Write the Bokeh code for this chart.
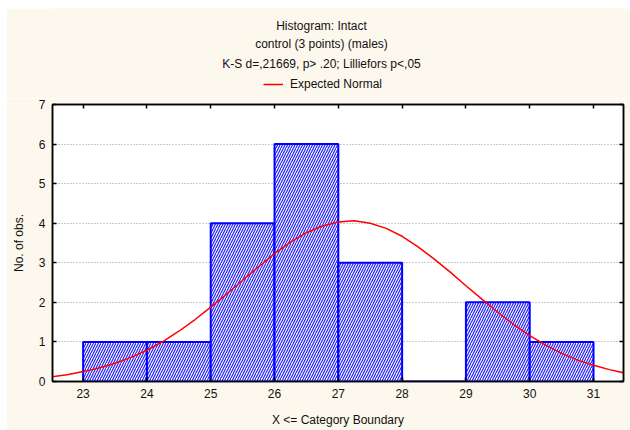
from bokeh.plotting import figure
from bokeh.layouts import column
from bokeh.models import (Label, Legend, LegendItem, LinearAxis, FixedTicker,
                          Range1d, ColumnDataSource)
from bokeh.embed import file_html
from bokeh.resources import INLINE

# ---- data ----
bin_left = [23, 24, 25, 26, 27, 28, 29, 30]
bin_right = [24, 25, 26, 27, 28, 29, 30, 31]
counts = [1, 1, 4, 6, 3, 0, 2, 1]

curve_x = [22.5, 22.75, 23.0, 23.25, 23.5, 23.75, 24.0, 24.25, 24.5, 24.75,
           25.0, 25.25, 25.5, 25.75, 26.0, 26.25, 26.5, 26.75, 27.0, 27.25,
           27.5, 27.75, 28.0, 28.25, 28.5, 28.75, 29.0, 29.25, 29.5, 29.75,
           30.0, 30.25, 30.5, 30.75, 31.0, 31.25, 31.5]
curve_y = [0.12, 0.17, 0.25, 0.34, 0.46, 0.61, 0.79, 1.01, 1.27, 1.56,
           1.88, 2.21, 2.56, 2.90, 3.23, 3.52, 3.76, 3.93, 4.03, 4.06,
           4.00, 3.87, 3.67, 3.40, 3.10, 2.77, 2.42, 2.08, 1.75, 1.44,
           1.16, 0.92, 0.71, 0.54, 0.41, 0.30, 0.21]

x_ticks = [23, 24, 25, 26, 27, 28, 29, 30, 31]
y_ticks = [0, 1, 2, 3, 4, 5, 6, 7]

title_lines = ["Histogram: Intact", "control (3 points) (males)",
               "K-S d=,21669, p> .20; Lilliefors p<,05"]
legend_label = "Expected Normal"
x_label = "X <= Category Boundary"
y_label = "No. of obs."

FONT = "Liberation Sans"
CREAM = "#FDF8ED"
W = 624
HEAD_H = 90
MAIN_H = 332
BL, BR = 46, 7          # left / right borders shared by both figures

# ---- header (titles + legend); frame spans the same columns as the plot ----
head = figure(width=W, height=HEAD_H, output_backend="svg",
              toolbar_location=None, x_range=Range1d(0, W - BL - BR),
              y_range=Range1d(HEAD_H, 0), min_border_left=BL,
              min_border_right=BR, min_border_top=0, min_border_bottom=0,
              x_axis_location=None, y_axis_location=None)
head.background_fill_color = CREAM
head.border_fill_color = CREAM
head.outline_line_color = None
head.grid.visible = False

for txt, yy in zip(title_lines, [17, 35, 55]):
    head.add_layout(Label(x=269, y=yy, text=txt, text_align="center",
                          text_baseline="middle", text_font=FONT,
                          text_font_size="12px", text_color="#111111"))

swatch = head.line(x=[-50, -40], y=[-50, -50], line_color="#FF0000",
                   line_width=1.5)
legend = Legend(items=[LegendItem(label=legend_label, renderers=[swatch])],
                location=(211, 7), orientation="horizontal",
                label_text_font=FONT, label_text_font_size="12px",
                label_text_color="#111111", glyph_width=20, glyph_height=14,
                label_height=14, label_standoff=7, padding=0, margin=0,
                spacing=0, background_fill_alpha=0, border_line_alpha=0)
head.add_layout(legend)

# ---- main histogram ----
p = figure(width=W, height=MAIN_H, output_backend="svg",
           toolbar_location=None,
           x_range=Range1d(22.52, 31.47), y_range=Range1d(0, 7),
           min_border_left=BL, min_border_right=BR, min_border_top=6,
           min_border_bottom=49, x_axis_location=None, y_axis_location=None)
p.background_fill_color = "white"
p.border_fill_color = CREAM
p.outline_line_color = "black"
p.outline_line_width = 1.5

src = ColumnDataSource(dict(left=bin_left, right=bin_right, top=counts,
                            bottom=[0] * len(counts)))
p.quad(left="left", right="right", top="top", bottom="bottom", source=src,
       fill_color="white", line_color="#0000FF", line_width=2,
       hatch_pattern="/", hatch_color="#2020FF", hatch_scale=5,
       hatch_weight=1.2)

p.line(curve_x, curve_y, line_color="#FF0000", line_width=1.5)

xb = LinearAxis(ticker=FixedTicker(ticks=x_ticks))
xt = LinearAxis(ticker=FixedTicker(ticks=x_ticks))
yl = LinearAxis(ticker=FixedTicker(ticks=y_ticks))
yr = LinearAxis(ticker=FixedTicker(ticks=y_ticks))
for ax in (xb, xt, yl, yr):
    ax.major_tick_in = 4
    ax.major_tick_out = 0
    ax.minor_tick_in = 0
    ax.minor_tick_out = 0
    ax.axis_line_color = "black"
    ax.axis_line_width = 1.5
    ax.major_tick_line_color = "black"
    ax.major_tick_line_width = 1.5
    ax.major_label_text_font = FONT
    ax.major_label_text_font_size = "12px"
    ax.major_label_text_color = "#111111"
    ax.axis_label_text_font = FONT
    ax.axis_label_text_font_size = "12px"
    ax.axis_label_text_font_style = "normal"
    ax.axis_label_text_color = "#111111"
for ax in (xt, yr):
    ax.major_label_text_font_size = "0px"
    ax.major_label_text_alpha = 0
    ax.major_label_standoff = 0
xb.major_label_standoff = 7
xb.axis_label = x_label
xb.axis_label_standoff = 12
yl.major_label_standoff = 7
yl.axis_label = y_label
yl.axis_label_standoff = 10
p.add_layout(xb, "below")
p.add_layout(xt, "above")
p.add_layout(yl, "left")
p.add_layout(yr, "right")

p.xgrid.visible = False
p.ygrid.ticker = FixedTicker(ticks=y_ticks)
p.ygrid.grid_line_color = "#999999"
p.ygrid.grid_line_dash = "1 2"
p.ygrid.grid_line_width = 1

layout = column(head, p, spacing=0, margin=(8, 0, 0, 6))
open("out.html", "w").write(file_html(layout, INLINE))
